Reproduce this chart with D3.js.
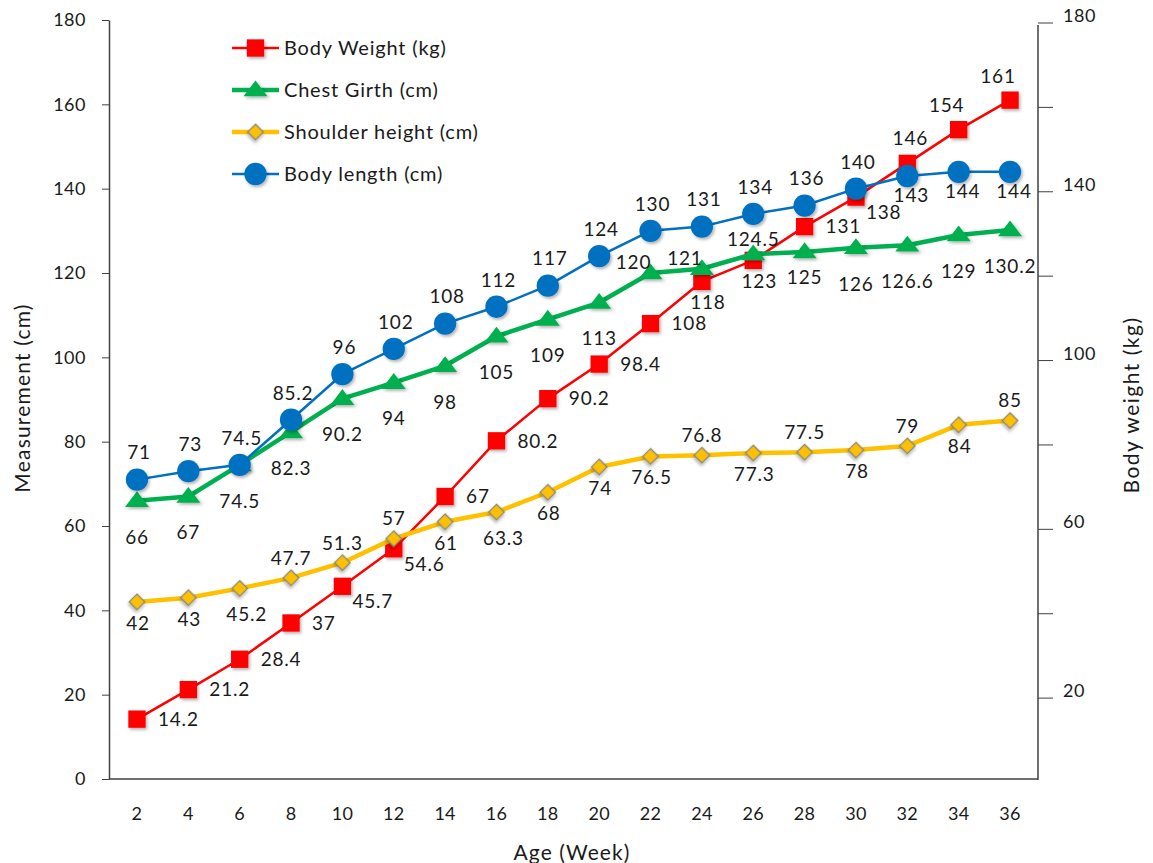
<!DOCTYPE html>
<html>
<head>
<meta charset="utf-8">
<script src="https://cdn.jsdelivr.net/npm/d3@7/dist/d3.min.js"></script>
<style>
  html, body { margin: 0; padding: 0; background: #ffffff; }
  svg { display: block; font-family: Lato, "Open Sans", sans-serif; }
  .tick line { stroke: #404040; }
  .domain { stroke: #404040; }
</style>
</head>
<body>
<svg id="chart" width="1153" height="863"></svg>
<script>
// Age in weeks (x categories)
const weeks = [2, 4, 6, 8, 10, 12, 14, 16, 18, 20, 22, 24, 26, 28, 30, 32, 34, 36];

// Series values
const bodyWeight     = [14.2, 21.2, 28.4, 37, 45.7, 54.6, 67, 80.2, 90.2, 98.4, 108, 118, 123, 131, 138, 146, 154, 161];
const chestGirth     = [66, 67, 74.5, 82.3, 90.2, 94, 98, 105, 109, 113, 120, 121, 124.5, 125, 126, 126.6, 129, 130.2];
const shoulderHeight = [42, 43, 45.2, 47.7, 51.3, 57, 61, 63.3, 68, 74, 76.5, 76.8, 77.3, 77.5, 78, 79, 84, 85];
const bodyLength     = [71, 73, 74.5, 85.2, 96, 102, 108, 112, 117, 124, 130, 131, 134, 136, 140, 143, 144, 144];

// Axis ticks
const leftTicks = [0, 20, 40, 60, 80, 100, 120, 140, 160, 180];
const rightTicks = [20, 40, 60, 80, 100, 120, 140, 160, 180];
const rightTickLabels = [20, 60, 100, 140, 180];

// Where each value label sits relative to its marker
const weightLabelPlace   = ['r','r','r','r','br','br','r','r','r','r','r','b','b','r','br','a','al','al'];
const chestLabelPlace    = ['b','b','b','b','b','b','b','b','b','b','l','l','a','bn','b','b','b','b'];
const shoulderLabelPlace = ['b','b','br','a','a','a','b','br','b','b','b','a','b','a','b','a','b','a'];
const lengthLabelPlace   = ['a','a','a','a','a','a','a','a','a','a','a','a','a','a','a','b','b','b'];

const svg = d3.select('#chart');

const plotLeft = 109, plotRight = 1038, plotTop = 20, plotBottom = 779;
const textColor = '#1a1a1a';

const x = d3.scaleBand().domain(weeks).range([111.3, 1035.7]);
const xc = d => x(d) + x.bandwidth() / 2;
const y = d3.scaleLinear().domain([0, 180]).range([plotBottom, plotTop]);
const yRight = d3.scaleLinear().domain([0, 180]).range([782, 22.5]);

// Soft shadow under markers
const defs = svg.append('defs');
const shadow = defs.append('filter').attr('id', 'mshadow')
  .attr('x', '-50%').attr('y', '-50%').attr('width', '200%').attr('height', '200%');
shadow.append('feDropShadow').attr('dx', 1.5).attr('dy', 2).attr('stdDeviation', 1.5)
  .attr('flood-color', '#000').attr('flood-opacity', 0.3);

// Left axis
const leftAxis = svg.append('g').attr('transform', `translate(${plotLeft},0)`)
  .call(d3.axisLeft(y).tickValues(leftTicks).tickSize(7).tickSizeOuter(0).tickPadding(16));
leftAxis.selectAll('.domain').attr('stroke-width', 1.5);
leftAxis.selectAll('text').attr('font-size', 18).attr('fill', textColor).attr('font-family', 'Lato').attr('letter-spacing', 0.5);

// X axis (labels only, no tick marks)
const xAxis = svg.append('g').attr('transform', `translate(0,${plotBottom})`)
  .call(d3.axisBottom(x).tickSize(0).tickPadding(28));
xAxis.select('.domain').attr('d', `M${plotLeft},0H${plotRight}`).attr('stroke-width', 1.5);
xAxis.selectAll('text').attr('font-size', 18).attr('fill', textColor).attr('font-family', 'Lato').attr('letter-spacing', 0.3);

// Right axis (body weight)
const rightAxis = svg.append('g').attr('transform', `translate(${plotRight},0)`)
  .call(d3.axisRight(yRight).tickValues(rightTicks).tickSize(15).tickSizeOuter(0).tickPadding(10)
    .tickFormat(d => rightTickLabels.includes(d) ? d : ''));
rightAxis.select('.domain').attr('d', `M0,25V${plotBottom + 1}`).attr('stroke-width', 1.5);
rightAxis.selectAll('text').attr('font-size', 18).attr('fill', textColor).attr('font-family', 'Lato')
  .attr('letter-spacing', 0.5).attr('dy', '-0.05em');

// Axis titles
svg.append('text').attr('transform', 'translate(21,398) rotate(-90)')
  .attr('text-anchor', 'middle').attr('dominant-baseline', 'central')
  .attr('font-size', 21).attr('fill', textColor).attr('letter-spacing', 1.2).text('Measurement  (cm)');
svg.append('text').attr('transform', 'translate(1130,405) rotate(-90)')
  .attr('text-anchor', 'middle').attr('dominant-baseline', 'central')
  .attr('font-size', 21).attr('fill', textColor).attr('letter-spacing', 1.5).text('Body weight (kg)');
svg.append('text').attr('x', 572).attr('y', 851)
  .attr('text-anchor', 'middle').attr('dominant-baseline', 'central')
  .attr('font-size', 21).attr('fill', textColor).attr('letter-spacing', 1.1).text('Age (Week)');

// Marker shapes
const symbolFor = {
  square:   d3.symbol().type(d3.symbolSquare).size(300),
  triangle: d3.symbol().type(d3.symbolTriangle).size(160),
  diamond:  d3.symbol().type(d3.symbolSquare).size(120),
  circle:   d3.symbol().type(d3.symbolCircle).size(390)
};

const series = [
  { name: 'Body Weight (kg)', values: bodyWeight, color: '#ff0000', width: 2.5, marker: 'square',
    markerFill: '#ff0000', markerStroke: 'none', places: weightLabelPlace,
    offsets: { r: ['start', 21, 0], br: ['start', 10, 15], b: ['middle', 6, 21], a: ['middle', 3, -25], al: ['middle', -12, -24] } },
  { name: 'Chest Girth (cm)', values: chestGirth, color: '#00b050', width: 4.5, marker: 'triangle',
    markerFill: '#00b050', markerStroke: 'none', places: chestLabelPlace,
    offsets: { b: ['middle', 0, 36], bn: ['middle', 0, 25], l: ['middle', -17, -11], a: ['middle', 0, -15] } },
  { name: 'Shoulder height (cm)', values: shoulderHeight, color: '#ffc000', width: 4.5, marker: 'diamond',
    markerFill: '#ffc000', markerStroke: '#8c8a6a', places: shoulderLabelPlace,
    offsets: { b: ['middle', 1, 21], br: ['middle', 7, 26], a: ['middle', 0, -20] } },
  { name: 'Body length (cm)', values: bodyLength, color: '#0070c0', width: 2.5, marker: 'circle',
    markerFill: '#0070c0', markerStroke: 'none', places: lengthLabelPlace,
    offsets: { a: ['middle', 2, -27], b: ['middle', 4, 19] } }
];

const line = d3.line().x(d => xc(d.week)).y(d => y(d.value));

function drawMarker(sel, s) {
  sel.attr('d', symbolFor[s.marker]())
    .attr('fill', s.markerFill)
    .attr('stroke', s.markerStroke)
    .attr('stroke-width', s.marker === 'diamond' ? 1.3 : 0)
    .attr('filter', 'url(#mshadow)');
}

function markerTransform(s, px, py) {
  if (s.marker === 'diamond') return `translate(${px},${py}) rotate(45)`;
  if (s.marker === 'triangle') return `translate(${px},${py + 1}) scale(1.25,0.95)`;
  return `translate(${px},${py})`;
}

series.forEach(s => {
  const pts = weeks.map((w, i) => ({ week: w, value: s.values[i] }));
  const g = svg.append('g');
  g.append('path').datum(pts).attr('d', line)
    .attr('fill', 'none').attr('stroke', s.color).attr('stroke-width', s.width)
    .attr('stroke-linejoin', 'round');
  g.selectAll('path.mk').data(pts).join('path').attr('class', 'mk')
    .attr('transform', d => markerTransform(s, xc(d.week), y(d.value)))
    .call(drawMarker, s);
});

// Value labels on top of all series
series.forEach(s => {
  const pts = weeks.map((w, i) => ({ week: w, value: s.values[i], place: s.places[i] }));
  svg.append('g').selectAll('text').data(pts).join('text')
    .attr('x', d => xc(d.week) + s.offsets[d.place][1])
    .attr('y', d => y(d.value) + s.offsets[d.place][2])
    .attr('dy', '0.36em')
    .attr('text-anchor', d => s.offsets[d.place][0])
    .attr('font-size', 19).attr('fill', textColor).attr('letter-spacing', 0.8)
    .text(d => d.value);
});

// Legend
const legend = svg.append('g').attr('transform', 'translate(232,48)');
series.forEach((s, i) => {
  const row = legend.append('g').attr('transform', `translate(0,${i * 42})`);
  row.append('line').attr('x1', 0).attr('x2', 47).attr('y1', 0).attr('y2', 0)
    .attr('stroke', s.color).attr('stroke-width', s.width);
  row.append('path').attr('transform', markerTransform(s, 23.5, 0)).call(drawMarker, s);
  row.append('text').attr('x', 52).attr('y', 0).attr('dy', '0.36em')
    .attr('font-size', 20).attr('fill', textColor).attr('letter-spacing', 0.8).text(s.name);
});
</script>
</body>
</html>
